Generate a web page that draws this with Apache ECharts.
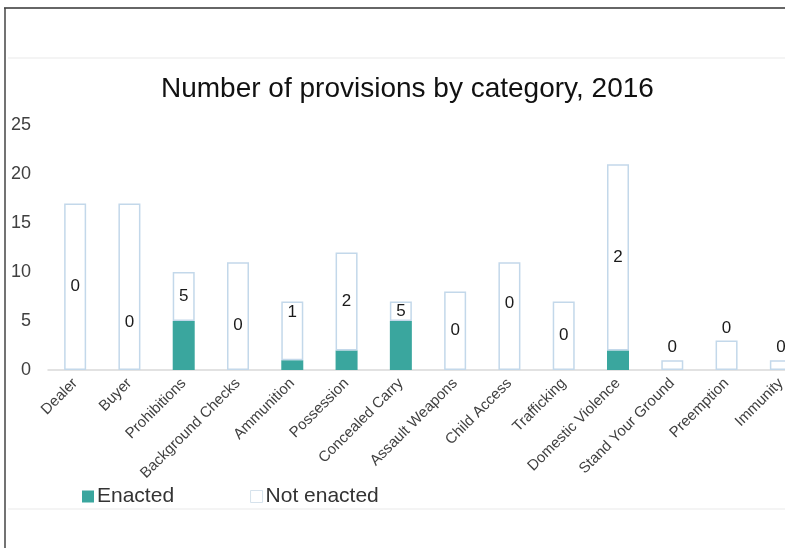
<!DOCTYPE html>
<html>
<head>
<meta charset="utf-8">
<script src="https://cdn.jsdelivr.net/npm/echarts@6/dist/echarts.min.js"></script>
<style>
html,body{margin:0;padding:0;background:#fff;overflow:hidden;width:785px;height:548px;}
#c{width:808px;height:548px;}
</style>
</head>
<body>
<div id="c"></div>
<script>
const categories = ["Dealer","Buyer","Prohibitions","Background Checks","Ammunition","Possession","Concealed Carry","Assault Weapons","Child Access","Trafficking","Domestic Violence","Stand Your Ground","Preemption","Immunity"];
const enacted    = [0, 0, 5, 0, 1, 2, 5, 0, 0, 0, 2, 0, 0, 0];
const notEnacted = [17, 17, 5, 11, 6, 10, 2, 8, 11, 7, 19, 1, 3, 1];
const yTicks = [0, 5, 10, 15, 20, 25];

// label placement styling (pixels), not data
const labelShift = {"Buyer": 36, "Background Checks": 9, "Ammunition": -18, "Child Access": -13};
const labelOnTop = {"Stand Your Ground": true, "Preemption": true, "Immunity": true};

const FONT = "'Liberation Sans', Arial, sans-serif";
const TEAL = '#3aa69e';
const EDGE = '#c3d8ea';

const chart = echarts.init(document.getElementById('c'), null, {renderer: 'canvas'});

const notEnactedData = notEnacted.map((v, i) => {
  const name = categories[i];
  const item = {value: v};
  if (labelOnTop[name]) {
    item.label = {position: 'top', distance: 4};
  } else if (labelShift[name] !== undefined) {
    item.label = {offset: [0, labelShift[name]]};
  }
  return item;
});

chart.setOption({
  animation: false,
  backgroundColor: '#ffffff',
  title: {
    text: 'Number of provisions by category, 2016',
    left: 156,
    top: 70,
    textStyle: {fontFamily: FONT, fontSize: 28, fontWeight: 'normal', color: '#111'}
  },
  legend: {
    left: 77,
    top: 481,
    itemWidth: 12,
    itemHeight: 12,
    itemGap: 76,
    icon: 'rect',
    textStyle: {fontFamily: FONT, fontSize: 21, color: '#333', padding: [0,0,0,-2]},
    data: [
      {name: 'Enacted', itemStyle: {color: TEAL}},
      {name: 'Not enacted', itemStyle: {color: '#fff', borderColor: '#d6e2ec', borderWidth: 1}}
    ]
  },
  grid: {left: 48, top: 125, bottom: 178, right: 0, containLabel: false},
  xAxis: {
    type: 'category',
    data: categories,
    axisLine: {lineStyle: {color: '#d9d9d9', width: 1.5}},
    axisTick: {show: false},
    axisLabel: {rotate: 45, interval: 0, margin: 11, fontFamily: FONT, fontSize: 15, color: '#404040'}
  },
  yAxis: {
    type: 'value',
    min: yTicks[0],
    max: yTicks[yTicks.length - 1],
    interval: 5,
    splitLine: {show: false},
    axisLine: {show: false},
    axisTick: {show: false},
    axisLabel: {margin: 17, fontFamily: FONT, fontSize: 18, color: '#404040'}
  },
  series: [
    {
      name: 'Enacted',
      type: 'bar',
      stack: 'total',
      barWidth: 22,
      data: enacted,
      itemStyle: {color: TEAL}
    },
    {
      name: 'Not enacted',
      type: 'bar',
      stack: 'total',
      barWidth: 22,
      data: notEnactedData,
      itemStyle: {color: '#ffffff', borderColor: EDGE, borderWidth: 1.5},
      label: {
        show: true,
        position: 'inside',
        fontFamily: FONT,
        fontSize: 17,
        color: '#1a1a1a',
        formatter: p => String(enacted[p.dataIndex])
      }
    }
  ],
  graphic: [
    {type: 'line', shape: {x1: 4, y1: 8, x2: 808, y2: 8}, style: {stroke: '#333', lineWidth: 1.5}, silent: true},
    {type: 'line', shape: {x1: 5, y1: 8, x2: 5, y2: 548}, style: {stroke: '#444', lineWidth: 1.5}, silent: true},
    {type: 'line', shape: {x1: 8, y1: 58, x2: 808, y2: 58}, style: {stroke: '#f4f4f4', lineWidth: 2}, silent: true},
    {type: 'line', shape: {x1: 8, y1: 509, x2: 808, y2: 509}, style: {stroke: '#f4f4f4', lineWidth: 2}, silent: true}
  ]
});
</script>
</body>
</html>
